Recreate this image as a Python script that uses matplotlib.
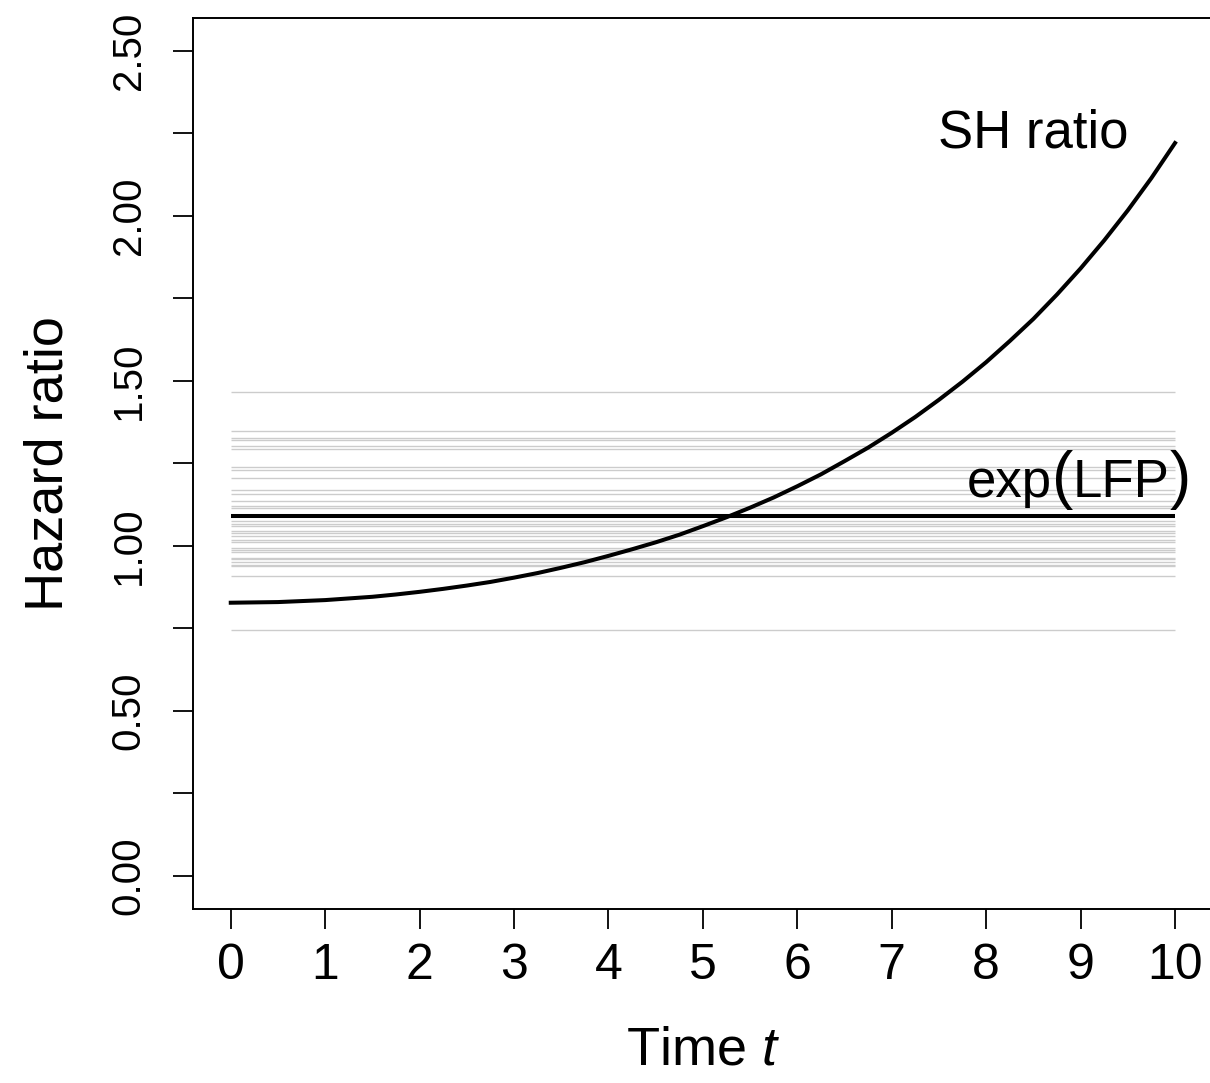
import matplotlib
matplotlib.use("Agg")
import matplotlib.pyplot as plt
from matplotlib.offsetbox import TextArea, HPacker, AnnotationBbox

# SH ratio curve
time_pts = [0, 0.25, 0.5, 0.75, 1, 1.25, 1.5, 1.75, 2, 2.25, 2.5, 2.75,
            3, 3.25, 3.5, 3.75, 4, 4.25, 4.5, 4.75, 5, 5.25, 5.5, 5.75,
            6, 6.25, 6.5, 6.75, 7, 7.25, 7.5, 7.75, 8, 8.25, 8.5, 8.75,
            9, 9.25, 9.5, 9.75, 10]
sh_ratio = [0.828, 0.829, 0.830, 0.833, 0.836, 0.841, 0.846, 0.853, 0.861, 0.870, 0.880, 0.891,
            0.904, 0.918, 0.934, 0.951, 0.970, 0.990, 1.011, 1.034, 1.060, 1.087, 1.116, 1.147,
            1.181, 1.217, 1.257, 1.298, 1.343, 1.391, 1.443, 1.498, 1.557, 1.621, 1.688, 1.762,
            1.841, 1.926, 2.017, 2.115, 2.221]

# grey horizontal lines (individual exp(LFP) draws)
grey_levels = [1.468, 1.349, 1.326, 1.322, 1.303, 1.295, 1.240, 1.230, 1.205,
               1.171, 1.158, 1.137, 1.121, 1.116, 1.075, 1.068, 1.060, 1.045,
               1.038, 1.030, 1.017, 1.012, 0.994, 0.989, 0.982, 0.964, 0.959,
               0.951, 0.942, 0.938, 0.910, 0.746]
lfp_level = 1.092

y_ticks = [0, 0.25, 0.5, 0.75, 1.0, 1.25, 1.5, 1.75, 2.0, 2.25, 2.5]
y_labels = ["0.00", "", "0.50", "", "1.00", "", "1.50", "", "2.00", "", "2.50"]
x_ticks = list(range(11))

plt.rcParams["font.family"] = ["Liberation Sans", "DejaVu Sans"]
plt.rcParams["mathtext.fontset"] = "custom"
plt.rcParams["mathtext.rm"] = "Liberation Sans"
plt.rcParams["mathtext.it"] = "Liberation Sans:italic"

fig = plt.figure(figsize=(12.1, 10.83), dpi=100)
ax = fig.add_axes([0.1595, 0.1607, 0.8428, 0.8227])

ax.hlines(grey_levels, 0, 10, color="#cccccc", linewidth=1.0, zorder=1)
ax.hlines(lfp_level, 0, 10, color="black", linewidth=2.9, zorder=2)
ax.plot(time_pts, sh_ratio, color="black", linewidth=2.9, zorder=3)

ax.text(8.5, 2.25, "SH ratio", fontsize=38, ha="center", va="center")

# exp(LFP) with enlarged parentheses, like R plotmath
parts = [TextArea("exp", textprops=dict(fontsize=38)),
         TextArea("(", textprops=dict(fontsize=46)),
         TextArea("LFP", textprops=dict(fontsize=38)),
         TextArea(")", textprops=dict(fontsize=46))]
pack = HPacker(children=parts, align="baseline", pad=0, sep=0)
ab = AnnotationBbox(pack, (8.98, 1.2), xycoords="data", frameon=False,
                    box_alignment=(0.5, 0.5), zorder=4)
ax.add_artist(ab)

ax.set_xlim(-0.4, 10.4)
ax.set_ylim(-0.1, 2.6)
ax.set_xticks(x_ticks)
ax.set_xticklabels([str(t) for t in x_ticks], fontsize=36)
ax.set_yticks(y_ticks)
ax.set_yticklabels(y_labels, fontsize=29, rotation=90, va="center")
ax.tick_params(axis="both", direction="out", length=14.5, width=1.3, color="black")
ax.tick_params(axis="x", pad=10)
ax.tick_params(axis="y", pad=18)

for s in ax.spines.values():
    s.set_linewidth(1.4)

ax.set_xlabel(r"Time $t$", fontsize=39, labelpad=26)
ax.set_ylabel("Hazard ratio", fontsize=39, labelpad=26)

fig.savefig("out.png", dpi=100, facecolor="white")
